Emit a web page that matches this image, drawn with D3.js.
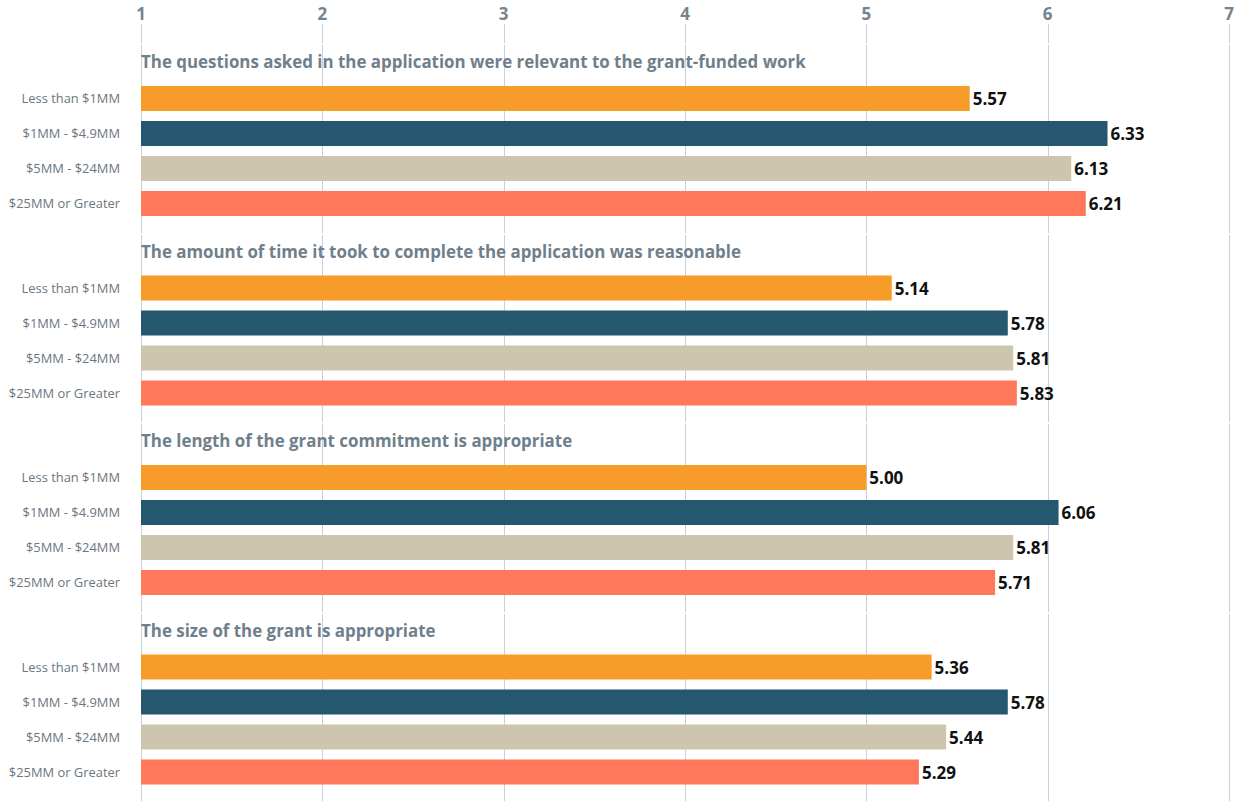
<!DOCTYPE html>
<html>
<head>
<meta charset="utf-8">
<script src="https://d3js.org/d3.v7.min.js"></script>
<style>
body { margin: 0; background: #fff; font-family: "Open Sans", sans-serif; }
.grid line { stroke: #c9d1d8; stroke-width: 1.2; shape-rendering: crispEdges; }
.tick-label { fill: #75838f; font-weight: 700; font-size: 17px; }
.title { fill: #6f7f8c; font-weight: 700; font-size: 16.9px; }
.cat { fill: #6b7681; font-size: 12.9px; }
.val { fill: #111; font-weight: 700; font-size: 17px; }
</style>
</head>
<body>
<script>
// data
var questions = [
  "The questions asked in the application were relevant to the grant-funded work",
  "The amount of time it took to complete the application was reasonable",
  "The length of the grant commitment is appropriate",
  "The size of the grant is appropriate"
];
var budgets = ["Less than $1MM", "$1MM - $4.9MM", "$5MM - $24MM", "$25MM or Greater"];
var lessThan1 = [5.57, 5.14, 5.00, 5.36];
var from1to49 = [6.33, 5.78, 6.06, 5.78];
var from5to24 = [6.13, 5.81, 5.81, 5.44];
var over25 = [6.21, 5.83, 5.71, 5.29];
var ticks = [1, 2, 3, 4, 5, 6, 7];

var series = [lessThan1, from1to49, from5to24, over25];
var colors = ["#f79c28", "#25586f", "#cdc5ae", "#ff785b"];

var width = 1238, height = 801;
var groupTop = 44, groupStep = 189.5;

var svg = d3.select("body").append("svg")
  .attr("width", width)
  .attr("height", height);

var x = d3.scaleLinear().domain([1, 7]).range([141, 1229]);

var y = d3.scaleBand().domain(budgets).range([0, 140]).paddingInner(10 / 35).paddingOuter(5 / 35);

// grid lines: one short piece under tick labels, then one per group
var grid = svg.append("g").attr("class", "grid");
var segs = [[24, groupTop - 1]];
questions.forEach(function(q, i) {
  segs.push([groupTop + i * groupStep + 1, groupTop + (i + 1) * groupStep - 1]);
});
segs.forEach(function(s) {
  grid.selectAll(null).data(ticks).enter().append("line")
    .attr("x1", function(d) { return Math.round(x(d)) + 0.5; })
    .attr("x2", function(d) { return Math.round(x(d)) + 0.5; })
    .attr("y1", s[0]).attr("y2", Math.min(s[1], height));
});

svg.append("g").selectAll("text").data(ticks).enter().append("text")
  .attr("class", "tick-label")
  .attr("x", function(d) { return x(d); })
  .attr("y", 20)
  .attr("text-anchor", "middle")
  .text(function(d) { return d; });

var groups = svg.selectAll(".group").data(questions).enter().append("g")
  .attr("class", "group")
  .attr("transform", function(d, i) { return "translate(0," + (groupTop + i * groupStep) + ")"; });

groups.append("text")
  .attr("class", "title")
  .attr("x", 141)
  .attr("y", 24)
  .text(function(d) { return d; });

groups.each(function(q, qi) {
  var g = d3.select(this).append("g").attr("transform", "translate(0,37)");
  var rows = budgets.map(function(b, bi) { return {b: b, v: series[bi][qi], c: colors[bi]}; });

  g.selectAll("rect").data(rows).enter().append("rect")
    .attr("x", x(1))
    .attr("y", function(d) { return y(d.b); })
    .attr("width", function(d) { return x(d.v) - x(1); })
    .attr("height", y.bandwidth())
    .attr("fill", function(d) { return d.c; });

  g.selectAll(".cat").data(rows).enter().append("text")
    .attr("class", "cat")
    .attr("x", 120)
    .attr("y", function(d) { return y(d.b) + y.bandwidth() / 2; })
    .attr("dy", "0.35em")
    .attr("text-anchor", "end")
    .text(function(d) { return d.b; });

  g.selectAll(".val").data(rows).enter().append("text")
    .attr("class", "val")
    .attr("x", function(d) { return x(d.v) + 3; })
    .attr("y", function(d) { return y(d.b) + y.bandwidth() / 2 + 1; })
    .attr("dy", "0.35em")
    .text(function(d) { return d.v.toFixed(2); });
});
</script>
</body>
</html>
